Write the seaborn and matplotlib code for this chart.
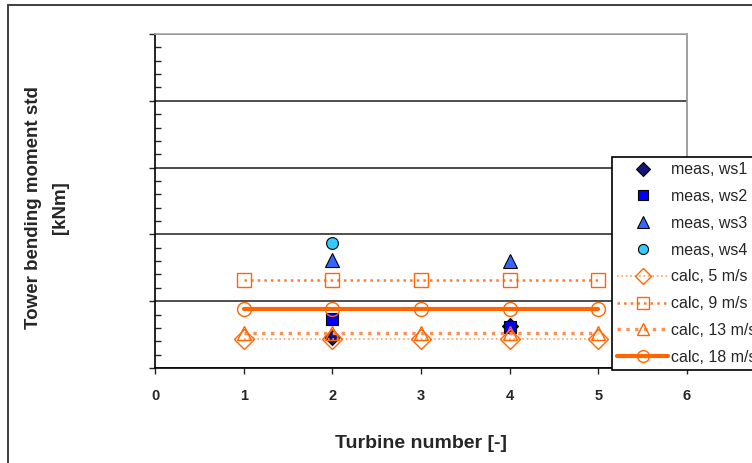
import pandas as pd
import seaborn as sns
import matplotlib.pyplot as plt
from matplotlib.patches import Rectangle
from matplotlib.ticker import MultipleLocator

# measured std values (arbitrary kNm scale, axis labels are hidden in the original)
meas_turbines = [2, 4]
meas_ws1 = [47, 63]
meas_ws2 = [73, 61]
meas_ws3 = [162, 160]
ws4_turbines = [2]
meas_ws4 = [187]

# calculated values, same for every turbine
calc_turbines = [1, 2, 3, 4, 5]
calc_5ms = [44, 44, 44, 44, 44]
calc_9ms = [131, 131, 131, 131, 131]
calc_13ms = [52, 52, 52, 52, 52]
calc_18ms = [89, 89, 89, 89, 89]

sns.set_style("ticks")
plt.rcParams['font.family'] = ['Liberation Sans', 'DejaVu Sans']

fig = plt.figure(figsize=(7.52, 4.63), dpi=100)
ax = fig.add_axes([155 / 752, 1 - 368 / 463, (687 - 155) / 752, (368 - 34) / 463])

meas = [
    ("meas, ws1", meas_turbines, meas_ws1, "D", "#14147a", 8),
    ("meas, ws2", meas_turbines, meas_ws2, "s", "#0000ff", 9),
    ("meas, ws3", meas_turbines, meas_ws3, "^", "#3366ff", 10),
    ("meas, ws4", ws4_turbines, meas_ws4, "o", "#33ccff", 8.5),
]
for label, xs, ys, mk, col, ms in meas:
    sns.lineplot(x=xs, y=ys, ax=ax, marker=mk, linestyle="", markersize=ms,
                 markerfacecolor=col, markeredgecolor="black",
                 markeredgewidth=0.8, label=label, zorder=3)

calc = [
    ("calc, 5 m/s", calc_5ms, "D", "#ffa060", 1.2, ":"),
    ("calc, 9 m/s", calc_9ms, "s", "#ff7a30", 1.8, ":"),
    ("calc, 13 m/s", calc_13ms, "^", "#ff9050", 2.4, ":"),
    ("calc, 18 m/s", calc_18ms, "o", "#ff6600", 3.0, "-"),
]
for label, ys, mk, col, lw, ls in calc:
    sns.lineplot(x=calc_turbines, y=ys, ax=ax, marker=mk, color=col,
                 linewidth=lw, linestyle=ls, markersize=10,
                 markerfacecolor="none", markeredgecolor="#ff6600",
                 markeredgewidth=1.0, label=label, zorder=4)

ax.set_xlim(0, 6)
ax.set_ylim(0, 500)
ax.xaxis.set_major_locator(MultipleLocator(1))
ax.yaxis.set_major_locator(MultipleLocator(100))
ax.yaxis.set_minor_locator(MultipleLocator(20))
ax.set_yticklabels([])
ax.tick_params(axis="y", which="major", direction="out", length=4, width=1)
ax.tick_params(axis="y", which="minor", direction="in", length=4, width=1)
ax.tick_params(axis="x", direction="out", length=4, width=1, pad=11,
               labelsize=10.5)
for t in ax.get_xticklabels():
    t.set_fontweight("bold")

ax.yaxis.grid(True, color="#303030", linewidth=1.2)
ax.get_ygridlines()[-1].set_visible(False)
ax.set_axisbelow(True)

ax.spines["left"].set_color("black")
ax.spines["bottom"].set_color("black")
ax.spines["top"].set_color("#a8a8a8")
ax.spines["right"].set_color("#909090")
for s in ax.spines.values():
    s.set_linewidth(1.2)

ax.set_xlabel("Turbine number [-]", fontsize=14, fontweight="bold")
ax.xaxis.set_label_coords(0.5, (368 - 443) / 334)
ax.xaxis.label.set_verticalalignment("center")
ax.set_ylabel("Tower bending moment std\n[kNm]", fontsize=13.5,
              fontweight="bold", linespacing=1.7)
ax.yaxis.set_label_coords((47 - 155) / 532, (368 - 208) / 334)
ax.yaxis.label.set_verticalalignment("center")

leg = ax.legend(loc="upper left", bbox_to_anchor=(612 / 752, 1 - 157 / 463),
                bbox_transform=fig.transFigure, borderaxespad=0,
                frameon=True, fancybox=False, edgecolor="black",
                framealpha=1, fontsize=11.5, handlelength=3.2,
                handletextpad=0.2, borderpad=0.32, labelspacing=0.74,
                numpoints=1, markerscale=0.85)
leg.get_frame().set_linewidth(1.2)
leg.set_zorder(10)

# outer chart-area frame
fig.patches.append(Rectangle((8 / 752, -0.1), 1.0, 1 - 5 / 463 + 0.1,
                             transform=fig.transFigure, fill=False,
                             edgecolor="#303030", linewidth=1.3))

fig.savefig("out.png", dpi=100)
